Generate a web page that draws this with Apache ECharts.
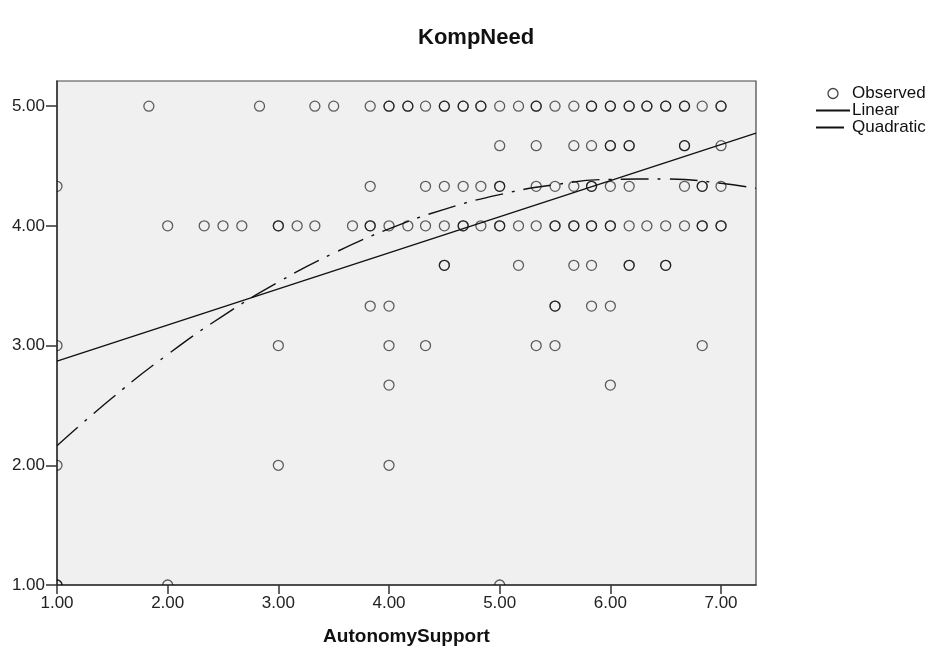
<!DOCTYPE html>
<html>
<head>
<meta charset="utf-8">
<script src="https://cdn.jsdelivr.net/npm/echarts@6/dist/echarts.min.js"></script>
<style>
  html, body { margin: 0; padding: 0; background: #fff; }
  #chart { width: 932px; height: 654px; }
</style>
</head>
<body>
<div id="chart"></div>
<script>
// Observed KompNeed values, one array of AutonomySupport scores per KompNeed level.
// Repeated x values are overlapping cases (drawn darker).
const level500 = [1.83, 2.83, 3.33, 3.5, 3.83, 4, 4, 4.17, 4.17, 4.33, 4.5, 4.5, 4.67, 4.67, 4.83, 4.83, 5, 5.17, 5.33, 5.33, 5.5, 5.67, 5.83, 5.83, 6, 6, 6.17, 6.17, 6.33, 6.33, 6.5, 6.5, 6.67, 6.67, 6.83, 7, 7];
const level467 = [5, 5.33, 5.67, 5.83, 6, 6, 6.17, 6.17, 6.67, 6.67, 7];
const level433 = [1, 3.83, 4.33, 4.5, 4.67, 4.83, 5, 5, 5.33, 5.5, 5.67, 5.83, 5.83, 6, 6.17, 6.67, 6.83, 6.83, 7];
const level400 = [2, 2.33, 2.5, 2.67, 3, 3, 3.17, 3.33, 3.67, 3.83, 3.83, 4, 4.17, 4.33, 4.5, 4.67, 4.67, 4.83, 5, 5, 5.17, 5.33, 5.5, 5.5, 5.67, 5.67, 5.83, 5.83, 6, 6, 6.17, 6.33, 6.5, 6.67, 6.83, 6.83, 7, 7];
const level367 = [4.5, 4.5, 5.17, 5.67, 5.83, 6.17, 6.17, 6.5, 6.5];
const level333 = [3.83, 4, 5.5, 5.5, 5.83, 6];
const level300 = [1, 3, 4, 4.33, 5.33, 5.5, 6.83];
const level267 = [4, 6];
const level200 = [1, 3, 4];
const level100 = [1, 1, 2, 5];

const levelValues = [5, 4.67, 4.33, 4, 3.67, 3.33, 3, 2.67, 2, 1];
const levelRows = [level500, level467, level433, level400, level367, level333, level300, level267, level200, level100];

// Fitted curves as read along the axis range
const linearX = [1, 7.316];
const linearY = [2.87, 4.775];
const quadX = [1, 1.5, 2, 2.5, 3, 3.5, 4, 4.5, 5, 5.5, 6, 6.5, 7, 7.316];
const quadY = [2.163, 2.564, 2.926, 3.248, 3.53, 3.772, 3.975, 4.138, 4.261, 4.344, 4.388, 4.392, 4.356, 4.313];

const xTicks = [1, 2, 3, 4, 5, 6, 7];
const yTicks = [1, 2, 3, 4, 5];

const observed = [];
levelRows.forEach((xs, i) => xs.forEach(x => observed.push([x, levelValues[i]])));
const linearData = linearX.map((x, i) => [x, linearY[i]]);
const quadData = quadX.map((x, i) => [x, quadY[i]]);

const FONT = '"Liberation Sans", Arial, sans-serif';
const hiddenMarker = { color: 'rgba(0,0,0,0)', borderColor: 'rgba(0,0,0,0)', borderWidth: 0 };
const chart = echarts.init(document.getElementById('chart'));

chart.setOption({
  animation: false,
  backgroundColor: '#ffffff',
  title: {
    text: 'KompNeed',
    left: 413,
    top: 22,
    textStyle: { fontFamily: FONT, fontSize: 22, fontWeight: 'bold', color: '#111' }
  },
  legend: {
    orient: 'vertical',
    left: 815,
    top: 85,
    padding: 0,
    itemWidth: 34,
    itemHeight: 10,
    itemGap: 0,
    textStyle: { fontFamily: FONT, fontSize: 17, lineHeight: 17, color: '#111', padding: [0, 0, 0, -3] },
    data: [
      { name: 'Observed', icon: 'circle', itemStyle: { color: 'rgba(0,0,0,0)', borderColor: '#444', borderWidth: 1.3 } },
      { name: 'Linear', itemStyle: hiddenMarker },
      { name: 'Quadratic', itemStyle: hiddenMarker }
    ]
  },
  grid: {
    left: 57, right: 176, top: 81, bottom: 69,
    show: true,
    backgroundColor: '#f0f0f0',
    borderColor: '#444',
    borderWidth: 1.2
  },
  xAxis: {
    type: 'value',
    min: 1, max: 7.316,
    name: 'AutonomySupport',
    nameLocation: 'middle',
    nameGap: 42,
    nameTextStyle: { fontFamily: FONT, fontSize: 19, fontWeight: 'bold', color: '#111' },
    splitLine: { show: false },
    axisLine: { show: true, lineStyle: { color: '#333', width: 1.5 } },
    axisTick: { show: true, length: 9, lineStyle: { color: '#333', width: 1.5 }, customValues: xTicks },
    axisLabel: {
      customValues: xTicks,
      formatter: v => v.toFixed(2),
      fontFamily: FONT, fontSize: 17, color: '#222', margin: 10
    }
  },
  yAxis: {
    type: 'value',
    min: 1, max: 5.21,
    splitLine: { show: false },
    axisLine: { show: true, lineStyle: { color: '#333', width: 1.5 } },
    axisTick: { show: true, length: 11, lineStyle: { color: '#333', width: 1.5 }, customValues: yTicks },
    axisLabel: {
      customValues: yTicks,
      formatter: v => v.toFixed(2),
      fontFamily: FONT, fontSize: 17, color: '#222', margin: 12
    }
  },
  series: [
    {
      name: 'Observed',
      type: 'custom',
      clip: true,
      data: observed,
      itemStyle: { color: '#444' },
      renderItem: function (params, api) {
        const p = api.coord([api.value(0), api.value(1)]);
        return {
          type: 'circle',
          shape: { cx: p[0], cy: p[1], r: 5 },
          style: { fill: 'none', stroke: 'rgba(0,0,0,0.62)', lineWidth: 1.3 }
        };
      },
      z: 3
    },
    {
      name: 'Linear',
      type: 'line',
      data: linearData,
      symbol: 'none',
      lineStyle: { color: '#111', width: 1.4 },
      itemStyle: { color: '#111' },
      z: 4
    },
    {
      name: 'Quadratic',
      type: 'line',
      data: quadData,
      smooth: true,
      symbol: 'none',
      lineStyle: { color: '#111', width: 1.4, type: [28, 9, 3, 9] },
      itemStyle: { color: '#111' },
      z: 4
    }
  ]
});
</script>
</body>
</html>
